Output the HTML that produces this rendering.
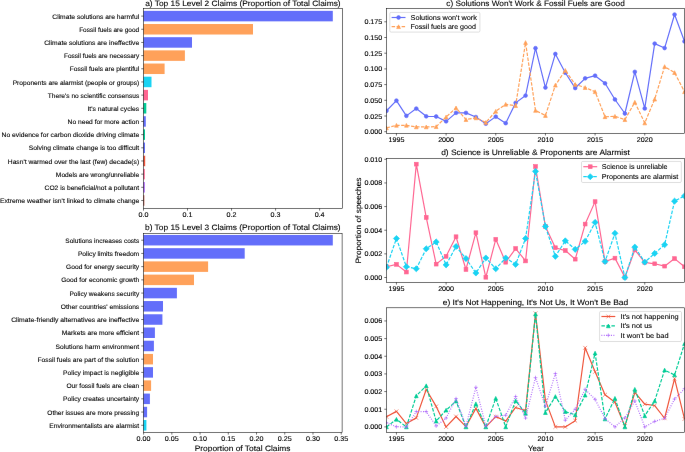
<!DOCTYPE html>
<html><head><meta charset="utf-8"><style>
html,body{margin:0;padding:0;background:#fff;}
svg{display:block;}
#wrap{will-change:transform;width:685px;height:452px;}
text{font-family:"Liberation Sans",sans-serif;text-rendering:geometricPrecision;}
</style></head><body>
<div id="wrap"><svg width="685" height="452" viewBox="0 0 685 452">
<filter id="bl" filterUnits="userSpaceOnUse" x="-5" y="-5" width="695" height="462" color-interpolation-filters="sRGB"><feConvolveMatrix order="3" kernelMatrix="0.00041 0.01943 0.00041 0.01943 0.92062 0.01943 0.00041 0.01943 0.00041" edgeMode="duplicate" preserveAlpha="true"/></filter>
<g filter="url(#bl)"><rect x="-5" y="-5" width="695" height="462" fill="#fff"/>
<rect x="143.45" y="10.85" width="189.35" height="10.50" fill="#636efa"/>
<line x1="141.25" y1="16.10" x2="143.45" y2="16.10" stroke="#000" stroke-width="0.55"/>
<text x="139.20" y="18.65" font-size="6.47" text-anchor="end" fill="#000" stroke="#000" stroke-width="0.1" textLength="86.89" lengthAdjust="spacingAndGlyphs">Climate solutions are harmful</text>
<rect x="143.45" y="24.02" width="109.55" height="10.50" fill="#ffa15a"/>
<line x1="141.25" y1="29.27" x2="143.45" y2="29.27" stroke="#000" stroke-width="0.55"/>
<text x="139.20" y="31.82" font-size="6.47" text-anchor="end" fill="#000" stroke="#000" stroke-width="0.1" textLength="60.05" lengthAdjust="spacingAndGlyphs">Fossil fuels are good</text>
<rect x="143.45" y="37.19" width="48.55" height="10.50" fill="#636efa"/>
<line x1="141.25" y1="42.44" x2="143.45" y2="42.44" stroke="#000" stroke-width="0.55"/>
<text x="139.20" y="44.99" font-size="6.47" text-anchor="end" fill="#000" stroke="#000" stroke-width="0.1" textLength="95.01" lengthAdjust="spacingAndGlyphs">Climate solutions are ineffective</text>
<rect x="143.45" y="50.36" width="41.45" height="10.50" fill="#ffa15a"/>
<line x1="141.25" y1="55.61" x2="143.45" y2="55.61" stroke="#000" stroke-width="0.55"/>
<text x="139.20" y="58.16" font-size="6.47" text-anchor="end" fill="#000" stroke="#000" stroke-width="0.1" textLength="75.21" lengthAdjust="spacingAndGlyphs">Fossil fuels are necessary</text>
<rect x="143.45" y="63.53" width="21.15" height="10.50" fill="#ffa15a"/>
<line x1="141.25" y1="68.78" x2="143.45" y2="68.78" stroke="#000" stroke-width="0.55"/>
<text x="139.20" y="71.33" font-size="6.47" text-anchor="end" fill="#000" stroke="#000" stroke-width="0.1" textLength="69.47" lengthAdjust="spacingAndGlyphs">Fossil fuels are plentiful</text>
<rect x="143.45" y="76.70" width="8.05" height="10.50" fill="#19d3f3"/>
<line x1="141.25" y1="81.95" x2="143.45" y2="81.95" stroke="#000" stroke-width="0.55"/>
<text x="139.20" y="84.50" font-size="6.47" text-anchor="end" fill="#000" stroke="#000" stroke-width="0.1" textLength="126.51" lengthAdjust="spacingAndGlyphs">Proponents are alarmist (people or groups)</text>
<rect x="143.45" y="89.87" width="4.55" height="10.50" fill="#ff6692"/>
<line x1="141.25" y1="95.12" x2="143.45" y2="95.12" stroke="#000" stroke-width="0.55"/>
<text x="139.20" y="97.67" font-size="6.47" text-anchor="end" fill="#000" stroke="#000" stroke-width="0.1" textLength="91.42" lengthAdjust="spacingAndGlyphs">There&#39;s no scientific consensus</text>
<rect x="143.45" y="103.04" width="2.85" height="10.50" fill="#00cc96"/>
<line x1="141.25" y1="108.29" x2="143.45" y2="108.29" stroke="#000" stroke-width="0.55"/>
<text x="139.20" y="110.84" font-size="6.47" text-anchor="end" fill="#000" stroke="#000" stroke-width="0.1" textLength="51.73" lengthAdjust="spacingAndGlyphs">It&#39;s natural cycles</text>
<rect x="143.45" y="116.21" width="2.35" height="10.50" fill="#636efa"/>
<line x1="141.25" y1="121.46" x2="143.45" y2="121.46" stroke="#000" stroke-width="0.55"/>
<text x="139.20" y="124.01" font-size="6.47" text-anchor="end" fill="#000" stroke="#000" stroke-width="0.1" textLength="71.58" lengthAdjust="spacingAndGlyphs">No need for more action</text>
<rect x="143.45" y="129.38" width="1.55" height="10.50" fill="#00cc96"/>
<line x1="141.25" y1="134.63" x2="143.45" y2="134.63" stroke="#000" stroke-width="0.55"/>
<text x="139.20" y="137.18" font-size="6.47" text-anchor="end" fill="#000" stroke="#000" stroke-width="0.1" textLength="137.62" lengthAdjust="spacingAndGlyphs">No evidence for carbon dioxide driving climate</text>
<rect x="143.45" y="142.55" width="1.55" height="10.50" fill="#636efa"/>
<line x1="141.25" y1="147.80" x2="143.45" y2="147.80" stroke="#000" stroke-width="0.55"/>
<text x="139.20" y="150.35" font-size="6.47" text-anchor="end" fill="#000" stroke="#000" stroke-width="0.1" textLength="110.42" lengthAdjust="spacingAndGlyphs">Solving climate change is too difficult</text>
<rect x="143.45" y="155.72" width="1.75" height="10.50" fill="#ef553b"/>
<line x1="141.25" y1="160.97" x2="143.45" y2="160.97" stroke="#000" stroke-width="0.55"/>
<text x="139.20" y="163.52" font-size="6.47" text-anchor="end" fill="#000" stroke="#000" stroke-width="0.1" textLength="131.40" lengthAdjust="spacingAndGlyphs">Hasn&#39;t warmed over the last (few) decade(s)</text>
<rect x="143.45" y="168.89" width="1.35" height="10.50" fill="#ff6692"/>
<line x1="141.25" y1="174.14" x2="143.45" y2="174.14" stroke="#000" stroke-width="0.55"/>
<text x="139.20" y="176.69" font-size="6.47" text-anchor="end" fill="#000" stroke="#000" stroke-width="0.1" textLength="83.31" lengthAdjust="spacingAndGlyphs">Models are wrong/unreliable</text>
<rect x="143.45" y="182.06" width="1.35" height="10.50" fill="#ab63fa"/>
<line x1="141.25" y1="187.31" x2="143.45" y2="187.31" stroke="#000" stroke-width="0.55"/>
<text x="139.20" y="189.86" font-size="6.47" text-anchor="end" fill="#000" stroke="#000" stroke-width="0.1" textLength="94.63" lengthAdjust="spacingAndGlyphs">CO2 is beneficial/not a pollutant</text>
<rect x="143.45" y="195.23" width="0.85" height="10.50" fill="#b03a28"/>
<line x1="141.25" y1="200.48" x2="143.45" y2="200.48" stroke="#000" stroke-width="0.55"/>
<text x="139.20" y="203.03" font-size="6.47" text-anchor="end" fill="#000" stroke="#000" stroke-width="0.1" textLength="139.25" lengthAdjust="spacingAndGlyphs">Extreme weather isn&#39;t linked to climate change</text>
<rect x="143.45" y="8.60" width="198.85" height="199.80" fill="none" stroke="#000" stroke-width="0.55"/>
<line x1="143.50" y1="208.40" x2="143.50" y2="210.60" stroke="#000" stroke-width="0.55"/>
<text x="143.50" y="217.20" font-size="6.88" text-anchor="middle" fill="#000" stroke="#000" stroke-width="0.12" textLength="9.94" lengthAdjust="spacingAndGlyphs">0.0</text>
<line x1="187.53" y1="208.40" x2="187.53" y2="210.60" stroke="#000" stroke-width="0.55"/>
<text x="187.53" y="217.20" font-size="6.88" text-anchor="middle" fill="#000" stroke="#000" stroke-width="0.12" textLength="9.94" lengthAdjust="spacingAndGlyphs">0.1</text>
<line x1="231.56" y1="208.40" x2="231.56" y2="210.60" stroke="#000" stroke-width="0.55"/>
<text x="231.56" y="217.20" font-size="6.88" text-anchor="middle" fill="#000" stroke="#000" stroke-width="0.12" textLength="9.94" lengthAdjust="spacingAndGlyphs">0.2</text>
<line x1="275.59" y1="208.40" x2="275.59" y2="210.60" stroke="#000" stroke-width="0.55"/>
<text x="275.59" y="217.20" font-size="6.88" text-anchor="middle" fill="#000" stroke="#000" stroke-width="0.12" textLength="9.94" lengthAdjust="spacingAndGlyphs">0.3</text>
<line x1="319.62" y1="208.40" x2="319.62" y2="210.60" stroke="#000" stroke-width="0.55"/>
<text x="319.62" y="217.20" font-size="6.88" text-anchor="middle" fill="#000" stroke="#000" stroke-width="0.12" textLength="9.94" lengthAdjust="spacingAndGlyphs">0.4</text>
<text x="242.90" y="5.60" font-size="7.80" text-anchor="middle" fill="#000" stroke="#000" stroke-width="0.1" textLength="195.47" lengthAdjust="spacingAndGlyphs">a) Top 15 Level 2 Claims (Proportion of Total Claims)</text>
<rect x="143.45" y="234.95" width="189.35" height="10.50" fill="#636efa"/>
<line x1="141.25" y1="240.20" x2="143.45" y2="240.20" stroke="#000" stroke-width="0.55"/>
<text x="139.20" y="242.75" font-size="6.47" text-anchor="end" fill="#000" stroke="#000" stroke-width="0.1" textLength="73.87" lengthAdjust="spacingAndGlyphs">Solutions increases costs</text>
<rect x="143.45" y="248.17" width="101.25" height="10.50" fill="#636efa"/>
<line x1="141.25" y1="253.42" x2="143.45" y2="253.42" stroke="#000" stroke-width="0.55"/>
<text x="139.20" y="255.97" font-size="6.47" text-anchor="end" fill="#000" stroke="#000" stroke-width="0.1" textLength="61.30" lengthAdjust="spacingAndGlyphs">Policy limits freedom</text>
<rect x="143.45" y="261.39" width="64.65" height="10.50" fill="#ffa15a"/>
<line x1="141.25" y1="266.64" x2="143.45" y2="266.64" stroke="#000" stroke-width="0.55"/>
<text x="139.20" y="269.19" font-size="6.47" text-anchor="end" fill="#000" stroke="#000" stroke-width="0.1" textLength="73.14" lengthAdjust="spacingAndGlyphs">Good for energy security</text>
<rect x="143.45" y="274.61" width="50.55" height="10.50" fill="#ffa15a"/>
<line x1="141.25" y1="279.86" x2="143.45" y2="279.86" stroke="#000" stroke-width="0.55"/>
<text x="139.20" y="282.41" font-size="6.47" text-anchor="end" fill="#000" stroke="#000" stroke-width="0.1" textLength="78.00" lengthAdjust="spacingAndGlyphs">Good for economic growth</text>
<rect x="143.45" y="287.83" width="33.45" height="10.50" fill="#636efa"/>
<line x1="141.25" y1="293.08" x2="143.45" y2="293.08" stroke="#000" stroke-width="0.55"/>
<text x="139.20" y="295.63" font-size="6.47" text-anchor="end" fill="#000" stroke="#000" stroke-width="0.1" textLength="69.76" lengthAdjust="spacingAndGlyphs">Policy weakens security</text>
<rect x="143.45" y="301.05" width="19.55" height="10.50" fill="#636efa"/>
<line x1="141.25" y1="306.30" x2="143.45" y2="306.30" stroke="#000" stroke-width="0.55"/>
<text x="139.20" y="308.85" font-size="6.47" text-anchor="end" fill="#000" stroke="#000" stroke-width="0.1" textLength="78.50" lengthAdjust="spacingAndGlyphs">Other countries&#39; emissions</text>
<rect x="143.45" y="314.27" width="18.95" height="10.50" fill="#636efa"/>
<line x1="141.25" y1="319.52" x2="143.45" y2="319.52" stroke="#000" stroke-width="0.55"/>
<text x="139.20" y="322.07" font-size="6.47" text-anchor="end" fill="#000" stroke="#000" stroke-width="0.1" textLength="128.00" lengthAdjust="spacingAndGlyphs">Climate-friendly alternatives are ineffective</text>
<rect x="143.45" y="327.49" width="11.45" height="10.50" fill="#636efa"/>
<line x1="141.25" y1="332.74" x2="143.45" y2="332.74" stroke="#000" stroke-width="0.55"/>
<text x="139.20" y="335.29" font-size="6.47" text-anchor="end" fill="#000" stroke="#000" stroke-width="0.1" textLength="77.44" lengthAdjust="spacingAndGlyphs">Markets are more efficient</text>
<rect x="143.45" y="340.71" width="10.45" height="10.50" fill="#636efa"/>
<line x1="141.25" y1="345.96" x2="143.45" y2="345.96" stroke="#000" stroke-width="0.55"/>
<text x="139.20" y="348.51" font-size="6.47" text-anchor="end" fill="#000" stroke="#000" stroke-width="0.1" textLength="83.58" lengthAdjust="spacingAndGlyphs">Solutions harm environment</text>
<rect x="143.45" y="353.93" width="9.55" height="10.50" fill="#ffa15a"/>
<line x1="141.25" y1="359.18" x2="143.45" y2="359.18" stroke="#000" stroke-width="0.55"/>
<text x="139.20" y="361.73" font-size="6.47" text-anchor="end" fill="#000" stroke="#000" stroke-width="0.1" textLength="101.66" lengthAdjust="spacingAndGlyphs">Fossil fuels are part of the solution</text>
<rect x="143.45" y="367.15" width="9.55" height="10.50" fill="#636efa"/>
<line x1="141.25" y1="372.40" x2="143.45" y2="372.40" stroke="#000" stroke-width="0.55"/>
<text x="139.20" y="374.95" font-size="6.47" text-anchor="end" fill="#000" stroke="#000" stroke-width="0.1" textLength="76.15" lengthAdjust="spacingAndGlyphs">Policy impact is negligible</text>
<rect x="143.45" y="380.37" width="7.65" height="10.50" fill="#ffa15a"/>
<line x1="141.25" y1="385.62" x2="143.45" y2="385.62" stroke="#000" stroke-width="0.55"/>
<text x="139.20" y="388.17" font-size="6.47" text-anchor="end" fill="#000" stroke="#000" stroke-width="0.1" textLength="72.75" lengthAdjust="spacingAndGlyphs">Our fossil fuels are clean</text>
<rect x="143.45" y="393.59" width="6.45" height="10.50" fill="#636efa"/>
<line x1="141.25" y1="398.84" x2="143.45" y2="398.84" stroke="#000" stroke-width="0.55"/>
<text x="139.20" y="401.39" font-size="6.47" text-anchor="end" fill="#000" stroke="#000" stroke-width="0.1" textLength="76.16" lengthAdjust="spacingAndGlyphs">Policy creates uncertainty</text>
<rect x="143.45" y="406.81" width="3.65" height="10.50" fill="#636efa"/>
<line x1="141.25" y1="412.06" x2="143.45" y2="412.06" stroke="#000" stroke-width="0.55"/>
<text x="139.20" y="414.61" font-size="6.47" text-anchor="end" fill="#000" stroke="#000" stroke-width="0.1" textLength="91.94" lengthAdjust="spacingAndGlyphs">Other issues are more pressing</text>
<rect x="143.45" y="420.03" width="2.95" height="10.50" fill="#19d3f3"/>
<line x1="141.25" y1="425.28" x2="143.45" y2="425.28" stroke="#000" stroke-width="0.55"/>
<text x="139.20" y="427.83" font-size="6.47" text-anchor="end" fill="#000" stroke="#000" stroke-width="0.1" textLength="89.98" lengthAdjust="spacingAndGlyphs">Environmentalists are alarmist</text>
<rect x="143.45" y="233.40" width="198.65" height="199.00" fill="none" stroke="#000" stroke-width="0.55"/>
<line x1="143.60" y1="432.40" x2="143.60" y2="434.60" stroke="#000" stroke-width="0.55"/>
<text x="143.60" y="441.20" font-size="6.88" text-anchor="middle" fill="#000" stroke="#000" stroke-width="0.12" textLength="13.92" lengthAdjust="spacingAndGlyphs">0.00</text>
<line x1="171.83" y1="432.40" x2="171.83" y2="434.60" stroke="#000" stroke-width="0.55"/>
<text x="171.83" y="441.20" font-size="6.88" text-anchor="middle" fill="#000" stroke="#000" stroke-width="0.12" textLength="13.92" lengthAdjust="spacingAndGlyphs">0.05</text>
<line x1="200.06" y1="432.40" x2="200.06" y2="434.60" stroke="#000" stroke-width="0.55"/>
<text x="200.06" y="441.20" font-size="6.88" text-anchor="middle" fill="#000" stroke="#000" stroke-width="0.12" textLength="13.92" lengthAdjust="spacingAndGlyphs">0.10</text>
<line x1="228.29" y1="432.40" x2="228.29" y2="434.60" stroke="#000" stroke-width="0.55"/>
<text x="228.29" y="441.20" font-size="6.88" text-anchor="middle" fill="#000" stroke="#000" stroke-width="0.12" textLength="13.92" lengthAdjust="spacingAndGlyphs">0.15</text>
<line x1="256.52" y1="432.40" x2="256.52" y2="434.60" stroke="#000" stroke-width="0.55"/>
<text x="256.52" y="441.20" font-size="6.88" text-anchor="middle" fill="#000" stroke="#000" stroke-width="0.12" textLength="13.92" lengthAdjust="spacingAndGlyphs">0.20</text>
<line x1="284.75" y1="432.40" x2="284.75" y2="434.60" stroke="#000" stroke-width="0.55"/>
<text x="284.75" y="441.20" font-size="6.88" text-anchor="middle" fill="#000" stroke="#000" stroke-width="0.12" textLength="13.92" lengthAdjust="spacingAndGlyphs">0.25</text>
<line x1="312.98" y1="432.40" x2="312.98" y2="434.60" stroke="#000" stroke-width="0.55"/>
<text x="312.98" y="441.20" font-size="6.88" text-anchor="middle" fill="#000" stroke="#000" stroke-width="0.12" textLength="13.92" lengthAdjust="spacingAndGlyphs">0.30</text>
<line x1="341.21" y1="432.40" x2="341.21" y2="434.60" stroke="#000" stroke-width="0.55"/>
<text x="341.21" y="441.20" font-size="6.88" text-anchor="middle" fill="#000" stroke="#000" stroke-width="0.12" textLength="13.92" lengthAdjust="spacingAndGlyphs">0.35</text>
<text x="242.80" y="229.70" font-size="7.80" text-anchor="middle" fill="#000" stroke="#000" stroke-width="0.1" textLength="195.63" lengthAdjust="spacingAndGlyphs">b) Top 15 Level 3 Claims (Proportion of Total Claims)</text>
<text x="242.60" y="450.50" font-size="7.80" text-anchor="middle" fill="#000" stroke="#000" stroke-width="0.1" textLength="95.81" lengthAdjust="spacingAndGlyphs">Proportion of Total Claims</text>
<defs><clipPath id="cc"><rect x="386.5" y="8.6" width="298.0" height="124.70000000000002"/></clipPath><clipPath id="cd"><rect x="386.5" y="158.5" width="298" height="123.9"/></clipPath><clipPath id="ce"><rect x="386.5" y="307.8" width="298" height="124.6"/></clipPath></defs>
<g clip-path="url(#cc)">
<path d="M386.50,110.79L396.43,100.61L406.37,115.87L416.30,108.59L426.23,116.31L436.17,116.50L446.10,121.34L456.03,112.86L465.96,112.86L475.90,117.07L485.83,123.66L495.76,116.63L505.70,123.16L515.63,102.87L525.56,95.59L535.50,48.18L545.43,87.55L555.36,53.95L565.29,72.73L575.23,88.05L585.16,78.32L595.09,75.68L605.03,83.28L614.96,99.48L624.89,113.49L634.83,71.85L644.76,108.46L654.69,43.59L664.62,48.05L674.56,14.52L684.49,41.39" fill="none" stroke="#636efa" stroke-width="1.2" stroke-linejoin="round"/>
<circle cx="386.50" cy="110.79" r="1.89" fill="#636efa" stroke="#636efa" stroke-width="0.63" stroke-linejoin="miter"/>
<circle cx="396.43" cy="100.61" r="1.89" fill="#636efa" stroke="#636efa" stroke-width="0.63" stroke-linejoin="miter"/>
<circle cx="406.37" cy="115.87" r="1.89" fill="#636efa" stroke="#636efa" stroke-width="0.63" stroke-linejoin="miter"/>
<circle cx="416.30" cy="108.59" r="1.89" fill="#636efa" stroke="#636efa" stroke-width="0.63" stroke-linejoin="miter"/>
<circle cx="426.23" cy="116.31" r="1.89" fill="#636efa" stroke="#636efa" stroke-width="0.63" stroke-linejoin="miter"/>
<circle cx="436.17" cy="116.50" r="1.89" fill="#636efa" stroke="#636efa" stroke-width="0.63" stroke-linejoin="miter"/>
<circle cx="446.10" cy="121.34" r="1.89" fill="#636efa" stroke="#636efa" stroke-width="0.63" stroke-linejoin="miter"/>
<circle cx="456.03" cy="112.86" r="1.89" fill="#636efa" stroke="#636efa" stroke-width="0.63" stroke-linejoin="miter"/>
<circle cx="465.96" cy="112.86" r="1.89" fill="#636efa" stroke="#636efa" stroke-width="0.63" stroke-linejoin="miter"/>
<circle cx="475.90" cy="117.07" r="1.89" fill="#636efa" stroke="#636efa" stroke-width="0.63" stroke-linejoin="miter"/>
<circle cx="485.83" cy="123.66" r="1.89" fill="#636efa" stroke="#636efa" stroke-width="0.63" stroke-linejoin="miter"/>
<circle cx="495.76" cy="116.63" r="1.89" fill="#636efa" stroke="#636efa" stroke-width="0.63" stroke-linejoin="miter"/>
<circle cx="505.70" cy="123.16" r="1.89" fill="#636efa" stroke="#636efa" stroke-width="0.63" stroke-linejoin="miter"/>
<circle cx="515.63" cy="102.87" r="1.89" fill="#636efa" stroke="#636efa" stroke-width="0.63" stroke-linejoin="miter"/>
<circle cx="525.56" cy="95.59" r="1.89" fill="#636efa" stroke="#636efa" stroke-width="0.63" stroke-linejoin="miter"/>
<circle cx="535.50" cy="48.18" r="1.89" fill="#636efa" stroke="#636efa" stroke-width="0.63" stroke-linejoin="miter"/>
<circle cx="545.43" cy="87.55" r="1.89" fill="#636efa" stroke="#636efa" stroke-width="0.63" stroke-linejoin="miter"/>
<circle cx="555.36" cy="53.95" r="1.89" fill="#636efa" stroke="#636efa" stroke-width="0.63" stroke-linejoin="miter"/>
<circle cx="565.29" cy="72.73" r="1.89" fill="#636efa" stroke="#636efa" stroke-width="0.63" stroke-linejoin="miter"/>
<circle cx="575.23" cy="88.05" r="1.89" fill="#636efa" stroke="#636efa" stroke-width="0.63" stroke-linejoin="miter"/>
<circle cx="585.16" cy="78.32" r="1.89" fill="#636efa" stroke="#636efa" stroke-width="0.63" stroke-linejoin="miter"/>
<circle cx="595.09" cy="75.68" r="1.89" fill="#636efa" stroke="#636efa" stroke-width="0.63" stroke-linejoin="miter"/>
<circle cx="605.03" cy="83.28" r="1.89" fill="#636efa" stroke="#636efa" stroke-width="0.63" stroke-linejoin="miter"/>
<circle cx="614.96" cy="99.48" r="1.89" fill="#636efa" stroke="#636efa" stroke-width="0.63" stroke-linejoin="miter"/>
<circle cx="624.89" cy="113.49" r="1.89" fill="#636efa" stroke="#636efa" stroke-width="0.63" stroke-linejoin="miter"/>
<circle cx="634.83" cy="71.85" r="1.89" fill="#636efa" stroke="#636efa" stroke-width="0.63" stroke-linejoin="miter"/>
<circle cx="644.76" cy="108.46" r="1.89" fill="#636efa" stroke="#636efa" stroke-width="0.63" stroke-linejoin="miter"/>
<circle cx="654.69" cy="43.59" r="1.89" fill="#636efa" stroke="#636efa" stroke-width="0.63" stroke-linejoin="miter"/>
<circle cx="664.62" cy="48.05" r="1.89" fill="#636efa" stroke="#636efa" stroke-width="0.63" stroke-linejoin="miter"/>
<circle cx="674.56" cy="14.52" r="1.89" fill="#636efa" stroke="#636efa" stroke-width="0.63" stroke-linejoin="miter"/>
<circle cx="684.49" cy="41.39" r="1.89" fill="#636efa" stroke="#636efa" stroke-width="0.63" stroke-linejoin="miter"/>
</g>
<g clip-path="url(#cc)">
<path d="M386.50,127.93L396.43,125.29L406.37,125.29L416.30,126.93L426.23,126.93L436.17,126.68L446.10,117.00L456.03,107.90L465.96,119.58L475.90,117.88L485.83,122.47L495.76,111.29L505.70,104.32L515.63,105.64L525.56,42.52L535.50,110.41L545.43,115.50L555.36,85.23L565.29,70.41L575.23,84.47L585.16,87.55L595.09,91.70L605.03,116.75L614.96,116.31L624.89,119.64L634.83,102.25L644.76,122.97L654.69,99.17L664.62,66.58L674.56,72.61L684.49,91.70" fill="none" stroke="#ffa15a" stroke-width="1.2" stroke-linejoin="round" stroke-dasharray="3.5,1.5"/>
<path d="M386.50,126.05L388.38,129.82L384.62,129.82Z" fill="#ffa15a" stroke="#ffa15a" stroke-width="0.63" stroke-linejoin="miter"/>
<path d="M396.43,123.41L398.32,127.18L394.55,127.18Z" fill="#ffa15a" stroke="#ffa15a" stroke-width="0.63" stroke-linejoin="miter"/>
<path d="M406.37,123.41L408.25,127.18L404.48,127.18Z" fill="#ffa15a" stroke="#ffa15a" stroke-width="0.63" stroke-linejoin="miter"/>
<path d="M416.30,125.04L418.18,128.81L414.41,128.81Z" fill="#ffa15a" stroke="#ffa15a" stroke-width="0.63" stroke-linejoin="miter"/>
<path d="M426.23,125.04L428.12,128.81L424.35,128.81Z" fill="#ffa15a" stroke="#ffa15a" stroke-width="0.63" stroke-linejoin="miter"/>
<path d="M436.17,124.79L438.05,128.56L434.28,128.56Z" fill="#ffa15a" stroke="#ffa15a" stroke-width="0.63" stroke-linejoin="miter"/>
<path d="M446.10,115.12L447.98,118.89L444.21,118.89Z" fill="#ffa15a" stroke="#ffa15a" stroke-width="0.63" stroke-linejoin="miter"/>
<path d="M456.03,106.01L457.92,109.78L454.15,109.78Z" fill="#ffa15a" stroke="#ffa15a" stroke-width="0.63" stroke-linejoin="miter"/>
<path d="M465.96,117.69L467.85,121.46L464.08,121.46Z" fill="#ffa15a" stroke="#ffa15a" stroke-width="0.63" stroke-linejoin="miter"/>
<path d="M475.90,116.00L477.78,119.77L474.01,119.77Z" fill="#ffa15a" stroke="#ffa15a" stroke-width="0.63" stroke-linejoin="miter"/>
<path d="M485.83,120.58L487.71,124.35L483.94,124.35Z" fill="#ffa15a" stroke="#ffa15a" stroke-width="0.63" stroke-linejoin="miter"/>
<path d="M495.76,109.40L497.65,113.17L493.88,113.17Z" fill="#ffa15a" stroke="#ffa15a" stroke-width="0.63" stroke-linejoin="miter"/>
<path d="M505.70,102.43L507.58,106.20L503.81,106.20Z" fill="#ffa15a" stroke="#ffa15a" stroke-width="0.63" stroke-linejoin="miter"/>
<path d="M515.63,103.75L517.51,107.52L513.74,107.52Z" fill="#ffa15a" stroke="#ffa15a" stroke-width="0.63" stroke-linejoin="miter"/>
<path d="M525.56,40.64L527.45,44.41L523.68,44.41Z" fill="#ffa15a" stroke="#ffa15a" stroke-width="0.63" stroke-linejoin="miter"/>
<path d="M535.50,108.53L537.38,112.30L533.61,112.30Z" fill="#ffa15a" stroke="#ffa15a" stroke-width="0.63" stroke-linejoin="miter"/>
<path d="M545.43,113.61L547.31,117.38L543.54,117.38Z" fill="#ffa15a" stroke="#ffa15a" stroke-width="0.63" stroke-linejoin="miter"/>
<path d="M555.36,83.34L557.25,87.11L553.48,87.11Z" fill="#ffa15a" stroke="#ffa15a" stroke-width="0.63" stroke-linejoin="miter"/>
<path d="M565.29,68.52L567.18,72.29L563.41,72.29Z" fill="#ffa15a" stroke="#ffa15a" stroke-width="0.63" stroke-linejoin="miter"/>
<path d="M575.23,82.59L577.11,86.36L573.34,86.36Z" fill="#ffa15a" stroke="#ffa15a" stroke-width="0.63" stroke-linejoin="miter"/>
<path d="M585.16,85.67L587.04,89.44L583.27,89.44Z" fill="#ffa15a" stroke="#ffa15a" stroke-width="0.63" stroke-linejoin="miter"/>
<path d="M595.09,89.81L596.98,93.58L593.21,93.58Z" fill="#ffa15a" stroke="#ffa15a" stroke-width="0.63" stroke-linejoin="miter"/>
<path d="M605.03,114.87L606.91,118.64L603.14,118.64Z" fill="#ffa15a" stroke="#ffa15a" stroke-width="0.63" stroke-linejoin="miter"/>
<path d="M614.96,114.43L616.84,118.20L613.07,118.20Z" fill="#ffa15a" stroke="#ffa15a" stroke-width="0.63" stroke-linejoin="miter"/>
<path d="M624.89,117.76L626.78,121.53L623.01,121.53Z" fill="#ffa15a" stroke="#ffa15a" stroke-width="0.63" stroke-linejoin="miter"/>
<path d="M634.83,100.36L636.71,104.13L632.94,104.13Z" fill="#ffa15a" stroke="#ffa15a" stroke-width="0.63" stroke-linejoin="miter"/>
<path d="M644.76,121.09L646.64,124.86L642.87,124.86Z" fill="#ffa15a" stroke="#ffa15a" stroke-width="0.63" stroke-linejoin="miter"/>
<path d="M654.69,97.28L656.58,101.05L652.81,101.05Z" fill="#ffa15a" stroke="#ffa15a" stroke-width="0.63" stroke-linejoin="miter"/>
<path d="M664.62,64.69L666.51,68.46L662.74,68.46Z" fill="#ffa15a" stroke="#ffa15a" stroke-width="0.63" stroke-linejoin="miter"/>
<path d="M674.56,70.72L676.44,74.49L672.67,74.49Z" fill="#ffa15a" stroke="#ffa15a" stroke-width="0.63" stroke-linejoin="miter"/>
<path d="M684.49,89.81L686.38,93.58L682.61,93.58Z" fill="#ffa15a" stroke="#ffa15a" stroke-width="0.63" stroke-linejoin="miter"/>
</g>
<rect x="386.50" y="8.60" width="298.00" height="124.70" fill="none" stroke="#000" stroke-width="0.55"/>
<line x1="384.30" y1="131.70" x2="386.50" y2="131.70" stroke="#000" stroke-width="0.55"/>
<text x="382.30" y="134.20" font-size="6.88" text-anchor="end" fill="#000" stroke="#000" stroke-width="0.12" textLength="17.89" lengthAdjust="spacingAndGlyphs">0.000</text>
<line x1="384.30" y1="116.00" x2="386.50" y2="116.00" stroke="#000" stroke-width="0.55"/>
<text x="382.30" y="118.50" font-size="6.88" text-anchor="end" fill="#000" stroke="#000" stroke-width="0.12" textLength="17.89" lengthAdjust="spacingAndGlyphs">0.025</text>
<line x1="384.30" y1="100.30" x2="386.50" y2="100.30" stroke="#000" stroke-width="0.55"/>
<text x="382.30" y="102.80" font-size="6.88" text-anchor="end" fill="#000" stroke="#000" stroke-width="0.12" textLength="17.89" lengthAdjust="spacingAndGlyphs">0.050</text>
<line x1="384.30" y1="84.60" x2="386.50" y2="84.60" stroke="#000" stroke-width="0.55"/>
<text x="382.30" y="87.10" font-size="6.88" text-anchor="end" fill="#000" stroke="#000" stroke-width="0.12" textLength="17.89" lengthAdjust="spacingAndGlyphs">0.075</text>
<line x1="384.30" y1="68.90" x2="386.50" y2="68.90" stroke="#000" stroke-width="0.55"/>
<text x="382.30" y="71.40" font-size="6.88" text-anchor="end" fill="#000" stroke="#000" stroke-width="0.12" textLength="17.89" lengthAdjust="spacingAndGlyphs">0.100</text>
<line x1="384.30" y1="53.20" x2="386.50" y2="53.20" stroke="#000" stroke-width="0.55"/>
<text x="382.30" y="55.70" font-size="6.88" text-anchor="end" fill="#000" stroke="#000" stroke-width="0.12" textLength="17.89" lengthAdjust="spacingAndGlyphs">0.125</text>
<line x1="384.30" y1="37.50" x2="386.50" y2="37.50" stroke="#000" stroke-width="0.55"/>
<text x="382.30" y="40.00" font-size="6.88" text-anchor="end" fill="#000" stroke="#000" stroke-width="0.12" textLength="17.89" lengthAdjust="spacingAndGlyphs">0.150</text>
<line x1="384.30" y1="21.80" x2="386.50" y2="21.80" stroke="#000" stroke-width="0.55"/>
<text x="382.30" y="24.30" font-size="6.88" text-anchor="end" fill="#000" stroke="#000" stroke-width="0.12" textLength="17.89" lengthAdjust="spacingAndGlyphs">0.175</text>
<line x1="396.43" y1="133.30" x2="396.43" y2="135.50" stroke="#000" stroke-width="0.55"/>
<text x="396.43" y="142.10" font-size="6.88" text-anchor="middle" fill="#000" stroke="#000" stroke-width="0.12" textLength="15.91" lengthAdjust="spacingAndGlyphs">1995</text>
<line x1="446.10" y1="133.30" x2="446.10" y2="135.50" stroke="#000" stroke-width="0.55"/>
<text x="446.10" y="142.10" font-size="6.88" text-anchor="middle" fill="#000" stroke="#000" stroke-width="0.12" textLength="15.91" lengthAdjust="spacingAndGlyphs">2000</text>
<line x1="495.76" y1="133.30" x2="495.76" y2="135.50" stroke="#000" stroke-width="0.55"/>
<text x="495.76" y="142.10" font-size="6.88" text-anchor="middle" fill="#000" stroke="#000" stroke-width="0.12" textLength="15.91" lengthAdjust="spacingAndGlyphs">2005</text>
<line x1="545.43" y1="133.30" x2="545.43" y2="135.50" stroke="#000" stroke-width="0.55"/>
<text x="545.43" y="142.10" font-size="6.88" text-anchor="middle" fill="#000" stroke="#000" stroke-width="0.12" textLength="15.91" lengthAdjust="spacingAndGlyphs">2010</text>
<line x1="595.09" y1="133.30" x2="595.09" y2="135.50" stroke="#000" stroke-width="0.55"/>
<text x="595.09" y="142.10" font-size="6.88" text-anchor="middle" fill="#000" stroke="#000" stroke-width="0.12" textLength="15.91" lengthAdjust="spacingAndGlyphs">2015</text>
<line x1="644.76" y1="133.30" x2="644.76" y2="135.50" stroke="#000" stroke-width="0.55"/>
<text x="644.76" y="142.10" font-size="6.88" text-anchor="middle" fill="#000" stroke="#000" stroke-width="0.12" textLength="15.91" lengthAdjust="spacingAndGlyphs">2020</text>
<text x="535.50" y="5.70" font-size="7.80" text-anchor="middle" fill="#000" stroke="#000" stroke-width="0.1" textLength="178.50" lengthAdjust="spacingAndGlyphs">c) Solutions Won&#39;t Work &amp; Fossil Fuels are Good</text>
<rect x="389.80" y="12.40" width="90.10" height="19.70" rx="1.3" fill="#fff" fill-opacity="0.8" stroke="#cccccc" stroke-width="0.63"/>
<path d="M391.60,17.50L405.50,17.50" stroke="#636efa" stroke-width="1.2"/>
<circle cx="398.55" cy="17.50" r="1.89" fill="#636efa" stroke="#636efa" stroke-width="0.63" stroke-linejoin="miter"/>
<text x="410.50" y="19.80" font-size="7.04" text-anchor="start" fill="#000" stroke="#000" stroke-width="0.1" textLength="66.44" lengthAdjust="spacingAndGlyphs">Solutions won&#39;t work</text>
<path d="M391.60,26.70L405.50,26.70" stroke="#ffa15a" stroke-width="1.2" stroke-dasharray="3.5,1.5"/>
<path d="M398.55,24.81L400.44,28.59L396.67,28.59Z" fill="#ffa15a" stroke="#ffa15a" stroke-width="0.63" stroke-linejoin="miter"/>
<text x="410.50" y="29.00" font-size="7.04" text-anchor="start" fill="#000" stroke="#000" stroke-width="0.1" textLength="65.36" lengthAdjust="spacingAndGlyphs">Fossil fuels are good</text>
<g clip-path="url(#cd)">
<path d="M386.50,266.74L396.43,264.38L406.37,272.06L416.30,164.15L426.23,217.45L436.17,264.14L446.10,256.34L456.03,236.72L465.96,269.46L475.90,232.70L485.83,277.26L495.76,239.32L505.70,262.25L515.63,248.54L525.56,260.95L535.50,166.51L545.43,226.44L555.36,247.71L565.29,250.55L575.23,259.18L585.16,224.07L595.09,201.62L605.03,261.54L614.96,258.12L624.89,277.26L634.83,249.96L644.76,262.37L654.69,263.79L664.62,266.15L674.56,258.59L684.49,266.74" fill="none" stroke="#ff6692" stroke-width="1.2" stroke-linejoin="round"/>
<rect x="384.62" y="264.86" width="3.77" height="3.77" fill="#ff6692" stroke="#ff6692" stroke-width="0.63" stroke-linejoin="miter"/>
<rect x="394.55" y="262.49" width="3.77" height="3.77" fill="#ff6692" stroke="#ff6692" stroke-width="0.63" stroke-linejoin="miter"/>
<rect x="404.48" y="270.18" width="3.77" height="3.77" fill="#ff6692" stroke="#ff6692" stroke-width="0.63" stroke-linejoin="miter"/>
<rect x="414.41" y="162.26" width="3.77" height="3.77" fill="#ff6692" stroke="#ff6692" stroke-width="0.63" stroke-linejoin="miter"/>
<rect x="424.35" y="215.57" width="3.77" height="3.77" fill="#ff6692" stroke="#ff6692" stroke-width="0.63" stroke-linejoin="miter"/>
<rect x="434.28" y="262.26" width="3.77" height="3.77" fill="#ff6692" stroke="#ff6692" stroke-width="0.63" stroke-linejoin="miter"/>
<rect x="444.21" y="254.46" width="3.77" height="3.77" fill="#ff6692" stroke="#ff6692" stroke-width="0.63" stroke-linejoin="miter"/>
<rect x="454.15" y="234.84" width="3.77" height="3.77" fill="#ff6692" stroke="#ff6692" stroke-width="0.63" stroke-linejoin="miter"/>
<rect x="464.08" y="267.58" width="3.77" height="3.77" fill="#ff6692" stroke="#ff6692" stroke-width="0.63" stroke-linejoin="miter"/>
<rect x="474.01" y="230.82" width="3.77" height="3.77" fill="#ff6692" stroke="#ff6692" stroke-width="0.63" stroke-linejoin="miter"/>
<rect x="483.94" y="275.38" width="3.77" height="3.77" fill="#ff6692" stroke="#ff6692" stroke-width="0.63" stroke-linejoin="miter"/>
<rect x="493.88" y="237.44" width="3.77" height="3.77" fill="#ff6692" stroke="#ff6692" stroke-width="0.63" stroke-linejoin="miter"/>
<rect x="503.81" y="260.37" width="3.77" height="3.77" fill="#ff6692" stroke="#ff6692" stroke-width="0.63" stroke-linejoin="miter"/>
<rect x="513.74" y="246.66" width="3.77" height="3.77" fill="#ff6692" stroke="#ff6692" stroke-width="0.63" stroke-linejoin="miter"/>
<rect x="523.68" y="259.07" width="3.77" height="3.77" fill="#ff6692" stroke="#ff6692" stroke-width="0.63" stroke-linejoin="miter"/>
<rect x="533.61" y="164.63" width="3.77" height="3.77" fill="#ff6692" stroke="#ff6692" stroke-width="0.63" stroke-linejoin="miter"/>
<rect x="543.54" y="224.55" width="3.77" height="3.77" fill="#ff6692" stroke="#ff6692" stroke-width="0.63" stroke-linejoin="miter"/>
<rect x="553.48" y="245.83" width="3.77" height="3.77" fill="#ff6692" stroke="#ff6692" stroke-width="0.63" stroke-linejoin="miter"/>
<rect x="563.41" y="248.67" width="3.77" height="3.77" fill="#ff6692" stroke="#ff6692" stroke-width="0.63" stroke-linejoin="miter"/>
<rect x="573.34" y="257.29" width="3.77" height="3.77" fill="#ff6692" stroke="#ff6692" stroke-width="0.63" stroke-linejoin="miter"/>
<rect x="583.27" y="222.19" width="3.77" height="3.77" fill="#ff6692" stroke="#ff6692" stroke-width="0.63" stroke-linejoin="miter"/>
<rect x="593.21" y="199.73" width="3.77" height="3.77" fill="#ff6692" stroke="#ff6692" stroke-width="0.63" stroke-linejoin="miter"/>
<rect x="603.14" y="259.66" width="3.77" height="3.77" fill="#ff6692" stroke="#ff6692" stroke-width="0.63" stroke-linejoin="miter"/>
<rect x="613.07" y="256.23" width="3.77" height="3.77" fill="#ff6692" stroke="#ff6692" stroke-width="0.63" stroke-linejoin="miter"/>
<rect x="623.01" y="275.38" width="3.77" height="3.77" fill="#ff6692" stroke="#ff6692" stroke-width="0.63" stroke-linejoin="miter"/>
<rect x="632.94" y="248.07" width="3.77" height="3.77" fill="#ff6692" stroke="#ff6692" stroke-width="0.63" stroke-linejoin="miter"/>
<rect x="642.87" y="260.49" width="3.77" height="3.77" fill="#ff6692" stroke="#ff6692" stroke-width="0.63" stroke-linejoin="miter"/>
<rect x="652.81" y="261.90" width="3.77" height="3.77" fill="#ff6692" stroke="#ff6692" stroke-width="0.63" stroke-linejoin="miter"/>
<rect x="662.74" y="264.27" width="3.77" height="3.77" fill="#ff6692" stroke="#ff6692" stroke-width="0.63" stroke-linejoin="miter"/>
<rect x="672.67" y="256.70" width="3.77" height="3.77" fill="#ff6692" stroke="#ff6692" stroke-width="0.63" stroke-linejoin="miter"/>
<rect x="682.61" y="264.86" width="3.77" height="3.77" fill="#ff6692" stroke="#ff6692" stroke-width="0.63" stroke-linejoin="miter"/>
</g>
<g clip-path="url(#cd)">
<path d="M386.50,267.22L396.43,238.49L406.37,266.74L416.30,268.75L426.23,248.78L436.17,241.92L446.10,264.85L456.03,246.53L465.96,258.59L475.90,273.01L485.83,258.00L495.76,268.75L505.70,258.00L515.63,264.38L525.56,238.49L535.50,171.36L545.43,226.44L555.36,256.34L565.29,240.86L575.23,249.37L585.16,241.33L595.09,222.42L605.03,261.54L614.96,233.29L624.89,277.50L634.83,247.12L644.76,262.13L654.69,253.39L664.62,244.76L674.56,201.14L684.49,195.94" fill="none" stroke="#19d3f3" stroke-width="1.2" stroke-linejoin="round" stroke-dasharray="3.5,1.5"/>
<path d="M386.50,264.15L389.57,267.22L386.50,270.28L383.43,267.22Z" fill="#19d3f3" stroke="#19d3f3" stroke-width="0.63" stroke-linejoin="miter"/>
<path d="M396.43,235.43L399.50,238.49L396.43,241.56L393.37,238.49Z" fill="#19d3f3" stroke="#19d3f3" stroke-width="0.63" stroke-linejoin="miter"/>
<path d="M406.37,263.68L409.43,266.74L406.37,269.81L403.30,266.74Z" fill="#19d3f3" stroke="#19d3f3" stroke-width="0.63" stroke-linejoin="miter"/>
<path d="M416.30,265.69L419.36,268.75L416.30,271.82L413.23,268.75Z" fill="#19d3f3" stroke="#19d3f3" stroke-width="0.63" stroke-linejoin="miter"/>
<path d="M426.23,245.71L429.30,248.78L426.23,251.84L423.17,248.78Z" fill="#19d3f3" stroke="#19d3f3" stroke-width="0.63" stroke-linejoin="miter"/>
<path d="M436.17,238.86L439.23,241.92L436.17,244.99L433.10,241.92Z" fill="#19d3f3" stroke="#19d3f3" stroke-width="0.63" stroke-linejoin="miter"/>
<path d="M446.10,261.79L449.16,264.85L446.10,267.92L443.03,264.85Z" fill="#19d3f3" stroke="#19d3f3" stroke-width="0.63" stroke-linejoin="miter"/>
<path d="M456.03,243.47L459.10,246.53L456.03,249.60L452.97,246.53Z" fill="#19d3f3" stroke="#19d3f3" stroke-width="0.63" stroke-linejoin="miter"/>
<path d="M465.96,255.52L469.03,258.59L465.96,261.65L462.90,258.59Z" fill="#19d3f3" stroke="#19d3f3" stroke-width="0.63" stroke-linejoin="miter"/>
<path d="M475.90,269.94L478.96,273.01L475.90,276.07L472.83,273.01Z" fill="#19d3f3" stroke="#19d3f3" stroke-width="0.63" stroke-linejoin="miter"/>
<path d="M485.83,254.93L488.90,258.00L485.83,261.06L482.76,258.00Z" fill="#19d3f3" stroke="#19d3f3" stroke-width="0.63" stroke-linejoin="miter"/>
<path d="M495.76,265.69L498.83,268.75L495.76,271.82L492.70,268.75Z" fill="#19d3f3" stroke="#19d3f3" stroke-width="0.63" stroke-linejoin="miter"/>
<path d="M505.70,254.93L508.76,258.00L505.70,261.06L502.63,258.00Z" fill="#19d3f3" stroke="#19d3f3" stroke-width="0.63" stroke-linejoin="miter"/>
<path d="M515.63,261.31L518.69,264.38L515.63,267.45L512.56,264.38Z" fill="#19d3f3" stroke="#19d3f3" stroke-width="0.63" stroke-linejoin="miter"/>
<path d="M525.56,235.43L528.63,238.49L525.56,241.56L522.50,238.49Z" fill="#19d3f3" stroke="#19d3f3" stroke-width="0.63" stroke-linejoin="miter"/>
<path d="M535.50,168.29L538.56,171.36L535.50,174.42L532.43,171.36Z" fill="#19d3f3" stroke="#19d3f3" stroke-width="0.63" stroke-linejoin="miter"/>
<path d="M545.43,223.37L548.49,226.44L545.43,229.50L542.36,226.44Z" fill="#19d3f3" stroke="#19d3f3" stroke-width="0.63" stroke-linejoin="miter"/>
<path d="M555.36,253.28L558.43,256.34L555.36,259.41L552.30,256.34Z" fill="#19d3f3" stroke="#19d3f3" stroke-width="0.63" stroke-linejoin="miter"/>
<path d="M565.29,237.79L568.36,240.86L565.29,243.92L562.23,240.86Z" fill="#19d3f3" stroke="#19d3f3" stroke-width="0.63" stroke-linejoin="miter"/>
<path d="M575.23,246.30L578.29,249.37L575.23,252.43L572.16,249.37Z" fill="#19d3f3" stroke="#19d3f3" stroke-width="0.63" stroke-linejoin="miter"/>
<path d="M585.16,238.27L588.23,241.33L585.16,244.40L582.09,241.33Z" fill="#19d3f3" stroke="#19d3f3" stroke-width="0.63" stroke-linejoin="miter"/>
<path d="M595.09,219.35L598.16,222.42L595.09,225.48L592.03,222.42Z" fill="#19d3f3" stroke="#19d3f3" stroke-width="0.63" stroke-linejoin="miter"/>
<path d="M605.03,258.48L608.09,261.54L605.03,264.61L601.96,261.54Z" fill="#19d3f3" stroke="#19d3f3" stroke-width="0.63" stroke-linejoin="miter"/>
<path d="M614.96,230.23L618.02,233.29L614.96,236.36L611.89,233.29Z" fill="#19d3f3" stroke="#19d3f3" stroke-width="0.63" stroke-linejoin="miter"/>
<path d="M624.89,274.43L627.96,277.50L624.89,280.57L621.83,277.50Z" fill="#19d3f3" stroke="#19d3f3" stroke-width="0.63" stroke-linejoin="miter"/>
<path d="M634.83,244.06L637.89,247.12L634.83,250.19L631.76,247.12Z" fill="#19d3f3" stroke="#19d3f3" stroke-width="0.63" stroke-linejoin="miter"/>
<path d="M644.76,259.07L647.82,262.13L644.76,265.20L641.69,262.13Z" fill="#19d3f3" stroke="#19d3f3" stroke-width="0.63" stroke-linejoin="miter"/>
<path d="M654.69,250.32L657.76,253.39L654.69,256.45L651.63,253.39Z" fill="#19d3f3" stroke="#19d3f3" stroke-width="0.63" stroke-linejoin="miter"/>
<path d="M664.62,241.69L667.69,244.76L664.62,247.82L661.56,244.76Z" fill="#19d3f3" stroke="#19d3f3" stroke-width="0.63" stroke-linejoin="miter"/>
<path d="M674.56,198.08L677.62,201.14L674.56,204.21L671.49,201.14Z" fill="#19d3f3" stroke="#19d3f3" stroke-width="0.63" stroke-linejoin="miter"/>
<path d="M684.49,192.88L687.56,195.94L684.49,199.01L681.42,195.94Z" fill="#19d3f3" stroke="#19d3f3" stroke-width="0.63" stroke-linejoin="miter"/>
</g>
<rect x="386.50" y="158.50" width="298.00" height="123.90" fill="none" stroke="#000" stroke-width="0.55"/>
<line x1="384.30" y1="277.50" x2="386.50" y2="277.50" stroke="#000" stroke-width="0.55"/>
<text x="382.30" y="280.00" font-size="6.88" text-anchor="end" fill="#000" stroke="#000" stroke-width="0.12" textLength="17.89" lengthAdjust="spacingAndGlyphs">0.000</text>
<line x1="384.30" y1="253.86" x2="386.50" y2="253.86" stroke="#000" stroke-width="0.55"/>
<text x="382.30" y="256.36" font-size="6.88" text-anchor="end" fill="#000" stroke="#000" stroke-width="0.12" textLength="17.89" lengthAdjust="spacingAndGlyphs">0.002</text>
<line x1="384.30" y1="230.22" x2="386.50" y2="230.22" stroke="#000" stroke-width="0.55"/>
<text x="382.30" y="232.72" font-size="6.88" text-anchor="end" fill="#000" stroke="#000" stroke-width="0.12" textLength="17.89" lengthAdjust="spacingAndGlyphs">0.004</text>
<line x1="384.30" y1="206.58" x2="386.50" y2="206.58" stroke="#000" stroke-width="0.55"/>
<text x="382.30" y="209.08" font-size="6.88" text-anchor="end" fill="#000" stroke="#000" stroke-width="0.12" textLength="17.89" lengthAdjust="spacingAndGlyphs">0.006</text>
<line x1="384.30" y1="182.94" x2="386.50" y2="182.94" stroke="#000" stroke-width="0.55"/>
<text x="382.30" y="185.44" font-size="6.88" text-anchor="end" fill="#000" stroke="#000" stroke-width="0.12" textLength="17.89" lengthAdjust="spacingAndGlyphs">0.008</text>
<line x1="384.30" y1="159.30" x2="386.50" y2="159.30" stroke="#000" stroke-width="0.55"/>
<text x="382.30" y="161.80" font-size="6.88" text-anchor="end" fill="#000" stroke="#000" stroke-width="0.12" textLength="17.89" lengthAdjust="spacingAndGlyphs">0.010</text>
<line x1="396.43" y1="282.40" x2="396.43" y2="284.60" stroke="#000" stroke-width="0.55"/>
<text x="396.43" y="291.20" font-size="6.88" text-anchor="middle" fill="#000" stroke="#000" stroke-width="0.12" textLength="15.91" lengthAdjust="spacingAndGlyphs">1995</text>
<line x1="446.10" y1="282.40" x2="446.10" y2="284.60" stroke="#000" stroke-width="0.55"/>
<text x="446.10" y="291.20" font-size="6.88" text-anchor="middle" fill="#000" stroke="#000" stroke-width="0.12" textLength="15.91" lengthAdjust="spacingAndGlyphs">2000</text>
<line x1="495.76" y1="282.40" x2="495.76" y2="284.60" stroke="#000" stroke-width="0.55"/>
<text x="495.76" y="291.20" font-size="6.88" text-anchor="middle" fill="#000" stroke="#000" stroke-width="0.12" textLength="15.91" lengthAdjust="spacingAndGlyphs">2005</text>
<line x1="545.43" y1="282.40" x2="545.43" y2="284.60" stroke="#000" stroke-width="0.55"/>
<text x="545.43" y="291.20" font-size="6.88" text-anchor="middle" fill="#000" stroke="#000" stroke-width="0.12" textLength="15.91" lengthAdjust="spacingAndGlyphs">2010</text>
<line x1="595.09" y1="282.40" x2="595.09" y2="284.60" stroke="#000" stroke-width="0.55"/>
<text x="595.09" y="291.20" font-size="6.88" text-anchor="middle" fill="#000" stroke="#000" stroke-width="0.12" textLength="15.91" lengthAdjust="spacingAndGlyphs">2015</text>
<line x1="644.76" y1="282.40" x2="644.76" y2="284.60" stroke="#000" stroke-width="0.55"/>
<text x="644.76" y="291.20" font-size="6.88" text-anchor="middle" fill="#000" stroke="#000" stroke-width="0.12" textLength="15.91" lengthAdjust="spacingAndGlyphs">2020</text>
<text x="535.50" y="154.90" font-size="7.80" text-anchor="middle" fill="#000" stroke="#000" stroke-width="0.1" textLength="188.63" lengthAdjust="spacingAndGlyphs">d) Science is Unreliable &amp; Proponents are Alarmist</text>
<rect x="581.50" y="161.40" width="99.80" height="21.10" rx="1.3" fill="#fff" fill-opacity="0.8" stroke="#cccccc" stroke-width="0.63"/>
<path d="M583.30,166.70L597.20,166.70" stroke="#ff6692" stroke-width="1.2"/>
<rect x="588.37" y="164.81" width="3.77" height="3.77" fill="#ff6692" stroke="#ff6692" stroke-width="0.63" stroke-linejoin="miter"/>
<text x="601.80" y="169.00" font-size="7.04" text-anchor="start" fill="#000" stroke="#000" stroke-width="0.1" textLength="65.79" lengthAdjust="spacingAndGlyphs">Science is unreliable</text>
<path d="M583.30,176.70L597.20,176.70" stroke="#19d3f3" stroke-width="1.2" stroke-dasharray="3.5,1.5"/>
<path d="M590.25,173.63L593.32,176.70L590.25,179.77L587.18,176.70Z" fill="#19d3f3" stroke="#19d3f3" stroke-width="0.63" stroke-linejoin="miter"/>
<text x="601.80" y="179.00" font-size="7.04" text-anchor="start" fill="#000" stroke="#000" stroke-width="0.1" textLength="76.44" lengthAdjust="spacingAndGlyphs">Proponents are alarmist</text>
<text x="360.80" y="220.45" font-size="7.80" text-anchor="middle" fill="#000" stroke="#000" stroke-width="0.1" textLength="85.99" lengthAdjust="spacingAndGlyphs" transform="rotate(-90 360.80 220.45)">Proportion of speeches</text>
<g clip-path="url(#ce)">
<path d="M386.50,416.83L396.43,411.36L406.37,423.54L416.30,417.89L426.23,389.46L436.17,406.41L446.10,426.90L456.03,416.48L465.96,426.55L475.90,408.36L485.83,426.90L495.76,416.66L505.70,421.07L515.63,407.47L525.56,410.65L535.50,313.35L545.43,400.41L555.36,426.90L565.29,426.90L575.23,420.72L585.16,347.78L595.09,371.80L605.03,394.76L614.96,402.18L624.89,426.19L634.83,392.46L644.76,404.12L654.69,405.53L664.62,418.25L674.56,378.69L684.49,418.95" fill="none" stroke="#ef553b" stroke-width="1.2" stroke-linejoin="round"/>
<path d="M384.62,414.95L388.38,418.72M384.62,418.72L388.38,414.95" stroke="#ef553b" stroke-width="0.63" fill="none"/>
<path d="M394.55,409.47L398.32,413.24M394.55,413.24L398.32,409.47" stroke="#ef553b" stroke-width="0.63" fill="none"/>
<path d="M404.48,421.66L408.25,425.43M404.48,425.43L408.25,421.66" stroke="#ef553b" stroke-width="0.63" fill="none"/>
<path d="M414.41,416.01L418.18,419.78M414.41,419.78L418.18,416.01" stroke="#ef553b" stroke-width="0.63" fill="none"/>
<path d="M424.35,387.58L428.12,391.35M424.35,391.35L428.12,387.58" stroke="#ef553b" stroke-width="0.63" fill="none"/>
<path d="M434.28,404.53L438.05,408.30M434.28,408.30L438.05,404.53" stroke="#ef553b" stroke-width="0.63" fill="none"/>
<path d="M444.21,425.01L447.98,428.78M444.21,428.78L447.98,425.01" stroke="#ef553b" stroke-width="0.63" fill="none"/>
<path d="M454.15,414.60L457.92,418.37M454.15,418.37L457.92,414.60" stroke="#ef553b" stroke-width="0.63" fill="none"/>
<path d="M464.08,424.66L467.85,428.43M464.08,428.43L467.85,424.66" stroke="#ef553b" stroke-width="0.63" fill="none"/>
<path d="M474.01,406.47L477.78,410.24M474.01,410.24L477.78,406.47" stroke="#ef553b" stroke-width="0.63" fill="none"/>
<path d="M483.94,425.01L487.71,428.78M483.94,428.78L487.71,425.01" stroke="#ef553b" stroke-width="0.63" fill="none"/>
<path d="M493.88,414.77L497.65,418.54M493.88,418.54L497.65,414.77" stroke="#ef553b" stroke-width="0.63" fill="none"/>
<path d="M503.81,419.19L507.58,422.96M503.81,422.96L507.58,419.19" stroke="#ef553b" stroke-width="0.63" fill="none"/>
<path d="M513.74,405.59L517.51,409.36M513.74,409.36L517.51,405.59" stroke="#ef553b" stroke-width="0.63" fill="none"/>
<path d="M523.68,408.77L527.45,412.54M523.68,412.54L527.45,408.77" stroke="#ef553b" stroke-width="0.63" fill="none"/>
<path d="M533.61,311.46L537.38,315.23M533.61,315.23L537.38,311.46" stroke="#ef553b" stroke-width="0.63" fill="none"/>
<path d="M543.54,398.52L547.31,402.29M543.54,402.29L547.31,398.52" stroke="#ef553b" stroke-width="0.63" fill="none"/>
<path d="M553.48,425.01L557.25,428.78M553.48,428.78L557.25,425.01" stroke="#ef553b" stroke-width="0.63" fill="none"/>
<path d="M563.41,425.01L567.18,428.78M563.41,428.78L567.18,425.01" stroke="#ef553b" stroke-width="0.63" fill="none"/>
<path d="M573.34,418.83L577.11,422.60M573.34,422.60L577.11,418.83" stroke="#ef553b" stroke-width="0.63" fill="none"/>
<path d="M583.27,345.90L587.04,349.67M583.27,349.67L587.04,345.90" stroke="#ef553b" stroke-width="0.63" fill="none"/>
<path d="M593.21,369.92L596.98,373.69M593.21,373.69L596.98,369.92" stroke="#ef553b" stroke-width="0.63" fill="none"/>
<path d="M603.14,392.87L606.91,396.64M603.14,396.64L606.91,392.87" stroke="#ef553b" stroke-width="0.63" fill="none"/>
<path d="M613.07,400.29L616.84,404.06M613.07,404.06L616.84,400.29" stroke="#ef553b" stroke-width="0.63" fill="none"/>
<path d="M623.01,424.31L626.78,428.08M623.01,428.08L626.78,424.31" stroke="#ef553b" stroke-width="0.63" fill="none"/>
<path d="M632.94,390.58L636.71,394.35M632.94,394.35L636.71,390.58" stroke="#ef553b" stroke-width="0.63" fill="none"/>
<path d="M642.87,402.23L646.64,406.00M642.87,406.00L646.64,402.23" stroke="#ef553b" stroke-width="0.63" fill="none"/>
<path d="M652.81,403.65L656.58,407.42M652.81,407.42L656.58,403.65" stroke="#ef553b" stroke-width="0.63" fill="none"/>
<path d="M662.74,416.36L666.51,420.13M662.74,420.13L666.51,416.36" stroke="#ef553b" stroke-width="0.63" fill="none"/>
<path d="M672.67,376.80L676.44,380.57M672.67,380.57L676.44,376.80" stroke="#ef553b" stroke-width="0.63" fill="none"/>
<path d="M682.61,417.07L686.38,420.84M682.61,420.84L686.38,417.07" stroke="#ef553b" stroke-width="0.63" fill="none"/>
</g>
<g clip-path="url(#ce)">
<path d="M386.50,426.90L396.43,419.31L406.37,426.90L416.30,395.82L426.23,385.75L436.17,421.07L446.10,410.12L456.03,401.12L465.96,426.90L475.90,403.77L485.83,426.90L495.76,398.29L505.70,426.90L515.63,400.76L525.56,413.30L535.50,314.05L545.43,412.60L555.36,396.52L565.29,411.54L575.23,414.89L585.16,395.11L595.09,353.08L605.03,418.95L614.96,398.29L624.89,426.90L634.83,389.28L644.76,415.77L654.69,400.94L664.62,370.03L674.56,374.98L684.49,343.72" fill="none" stroke="#00cc96" stroke-width="1.2" stroke-linejoin="round" stroke-dasharray="3.5,1.5"/>
<path d="M386.50,425.01L388.38,428.78L384.62,428.78Z" fill="#00cc96" stroke="#00cc96" stroke-width="0.63" stroke-linejoin="miter"/>
<path d="M396.43,417.42L398.32,421.19L394.55,421.19Z" fill="#00cc96" stroke="#00cc96" stroke-width="0.63" stroke-linejoin="miter"/>
<path d="M406.37,425.01L408.25,428.78L404.48,428.78Z" fill="#00cc96" stroke="#00cc96" stroke-width="0.63" stroke-linejoin="miter"/>
<path d="M416.30,393.93L418.18,397.70L414.41,397.70Z" fill="#00cc96" stroke="#00cc96" stroke-width="0.63" stroke-linejoin="miter"/>
<path d="M426.23,383.87L428.12,387.64L424.35,387.64Z" fill="#00cc96" stroke="#00cc96" stroke-width="0.63" stroke-linejoin="miter"/>
<path d="M436.17,419.19L438.05,422.96L434.28,422.96Z" fill="#00cc96" stroke="#00cc96" stroke-width="0.63" stroke-linejoin="miter"/>
<path d="M446.10,408.24L447.98,412.01L444.21,412.01Z" fill="#00cc96" stroke="#00cc96" stroke-width="0.63" stroke-linejoin="miter"/>
<path d="M456.03,399.23L457.92,403.00L454.15,403.00Z" fill="#00cc96" stroke="#00cc96" stroke-width="0.63" stroke-linejoin="miter"/>
<path d="M465.96,425.01L467.85,428.78L464.08,428.78Z" fill="#00cc96" stroke="#00cc96" stroke-width="0.63" stroke-linejoin="miter"/>
<path d="M475.90,401.88L477.78,405.65L474.01,405.65Z" fill="#00cc96" stroke="#00cc96" stroke-width="0.63" stroke-linejoin="miter"/>
<path d="M485.83,425.01L487.71,428.78L483.94,428.78Z" fill="#00cc96" stroke="#00cc96" stroke-width="0.63" stroke-linejoin="miter"/>
<path d="M495.76,396.41L497.65,400.18L493.88,400.18Z" fill="#00cc96" stroke="#00cc96" stroke-width="0.63" stroke-linejoin="miter"/>
<path d="M505.70,425.01L507.58,428.78L503.81,428.78Z" fill="#00cc96" stroke="#00cc96" stroke-width="0.63" stroke-linejoin="miter"/>
<path d="M515.63,398.88L517.51,402.65L513.74,402.65Z" fill="#00cc96" stroke="#00cc96" stroke-width="0.63" stroke-linejoin="miter"/>
<path d="M525.56,411.42L527.45,415.19L523.68,415.19Z" fill="#00cc96" stroke="#00cc96" stroke-width="0.63" stroke-linejoin="miter"/>
<path d="M535.50,312.17L537.38,315.94L533.61,315.94Z" fill="#00cc96" stroke="#00cc96" stroke-width="0.63" stroke-linejoin="miter"/>
<path d="M545.43,410.71L547.31,414.48L543.54,414.48Z" fill="#00cc96" stroke="#00cc96" stroke-width="0.63" stroke-linejoin="miter"/>
<path d="M555.36,394.64L557.25,398.41L553.48,398.41Z" fill="#00cc96" stroke="#00cc96" stroke-width="0.63" stroke-linejoin="miter"/>
<path d="M565.29,409.65L567.18,413.42L563.41,413.42Z" fill="#00cc96" stroke="#00cc96" stroke-width="0.63" stroke-linejoin="miter"/>
<path d="M575.23,413.01L577.11,416.78L573.34,416.78Z" fill="#00cc96" stroke="#00cc96" stroke-width="0.63" stroke-linejoin="miter"/>
<path d="M585.16,393.23L587.04,397.00L583.27,397.00Z" fill="#00cc96" stroke="#00cc96" stroke-width="0.63" stroke-linejoin="miter"/>
<path d="M595.09,351.20L596.98,354.97L593.21,354.97Z" fill="#00cc96" stroke="#00cc96" stroke-width="0.63" stroke-linejoin="miter"/>
<path d="M605.03,417.07L606.91,420.84L603.14,420.84Z" fill="#00cc96" stroke="#00cc96" stroke-width="0.63" stroke-linejoin="miter"/>
<path d="M614.96,396.41L616.84,400.18L613.07,400.18Z" fill="#00cc96" stroke="#00cc96" stroke-width="0.63" stroke-linejoin="miter"/>
<path d="M624.89,425.01L626.78,428.78L623.01,428.78Z" fill="#00cc96" stroke="#00cc96" stroke-width="0.63" stroke-linejoin="miter"/>
<path d="M634.83,387.40L636.71,391.17L632.94,391.17Z" fill="#00cc96" stroke="#00cc96" stroke-width="0.63" stroke-linejoin="miter"/>
<path d="M644.76,413.89L646.64,417.66L642.87,417.66Z" fill="#00cc96" stroke="#00cc96" stroke-width="0.63" stroke-linejoin="miter"/>
<path d="M654.69,399.05L656.58,402.82L652.81,402.82Z" fill="#00cc96" stroke="#00cc96" stroke-width="0.63" stroke-linejoin="miter"/>
<path d="M664.62,368.15L666.51,371.92L662.74,371.92Z" fill="#00cc96" stroke="#00cc96" stroke-width="0.63" stroke-linejoin="miter"/>
<path d="M674.56,373.09L676.44,376.86L672.67,376.86Z" fill="#00cc96" stroke="#00cc96" stroke-width="0.63" stroke-linejoin="miter"/>
<path d="M684.49,341.84L686.38,345.61L682.61,345.61Z" fill="#00cc96" stroke="#00cc96" stroke-width="0.63" stroke-linejoin="miter"/>
</g>
<g clip-path="url(#ce)">
<path d="M386.50,422.84L396.43,426.72L406.37,426.90L416.30,411.54L426.23,411.54L436.17,426.02L446.10,418.07L456.03,398.64L465.96,426.02L475.90,387.34L485.83,426.02L495.76,416.48L505.70,415.24L515.63,396.52L525.56,418.07L535.50,377.63L545.43,406.24L555.36,373.57L565.29,420.19L575.23,409.24L585.16,389.28L595.09,399.35L605.03,418.60L614.96,426.90L624.89,417.89L634.83,400.94L644.76,426.90L654.69,421.43L664.62,418.25L674.56,399.00L684.49,388.75" fill="none" stroke="#ab63fa" stroke-width="1.2" stroke-linejoin="round" stroke-dasharray="0.9,1.5"/>
<path d="M384.62,422.84L388.38,422.84M386.50,420.95L386.50,424.72" stroke="#ab63fa" stroke-width="0.63" fill="none"/>
<path d="M394.55,426.72L398.32,426.72M396.43,424.84L396.43,428.61" stroke="#ab63fa" stroke-width="0.63" fill="none"/>
<path d="M404.48,426.90L408.25,426.90M406.37,425.01L406.37,428.78" stroke="#ab63fa" stroke-width="0.63" fill="none"/>
<path d="M414.41,411.54L418.18,411.54M416.30,409.65L416.30,413.42" stroke="#ab63fa" stroke-width="0.63" fill="none"/>
<path d="M424.35,411.54L428.12,411.54M426.23,409.65L426.23,413.42" stroke="#ab63fa" stroke-width="0.63" fill="none"/>
<path d="M434.28,426.02L438.05,426.02M436.17,424.13L436.17,427.90" stroke="#ab63fa" stroke-width="0.63" fill="none"/>
<path d="M444.21,418.07L447.98,418.07M446.10,416.19L446.10,419.95" stroke="#ab63fa" stroke-width="0.63" fill="none"/>
<path d="M454.15,398.64L457.92,398.64M456.03,396.76L456.03,400.53" stroke="#ab63fa" stroke-width="0.63" fill="none"/>
<path d="M464.08,426.02L467.85,426.02M465.96,424.13L465.96,427.90" stroke="#ab63fa" stroke-width="0.63" fill="none"/>
<path d="M474.01,387.34L477.78,387.34M475.90,385.46L475.90,389.23" stroke="#ab63fa" stroke-width="0.63" fill="none"/>
<path d="M483.94,426.02L487.71,426.02M485.83,424.13L485.83,427.90" stroke="#ab63fa" stroke-width="0.63" fill="none"/>
<path d="M493.88,416.48L497.65,416.48M495.76,414.60L495.76,418.37" stroke="#ab63fa" stroke-width="0.63" fill="none"/>
<path d="M503.81,415.24L507.58,415.24M505.70,413.36L505.70,417.13" stroke="#ab63fa" stroke-width="0.63" fill="none"/>
<path d="M513.74,396.52L517.51,396.52M515.63,394.64L515.63,398.41" stroke="#ab63fa" stroke-width="0.63" fill="none"/>
<path d="M523.68,418.07L527.45,418.07M525.56,416.19L525.56,419.95" stroke="#ab63fa" stroke-width="0.63" fill="none"/>
<path d="M533.61,377.63L537.38,377.63M535.50,375.74L535.50,379.51" stroke="#ab63fa" stroke-width="0.63" fill="none"/>
<path d="M543.54,406.24L547.31,406.24M545.43,404.35L545.43,408.12" stroke="#ab63fa" stroke-width="0.63" fill="none"/>
<path d="M553.48,373.57L557.25,373.57M555.36,371.68L555.36,375.45" stroke="#ab63fa" stroke-width="0.63" fill="none"/>
<path d="M563.41,420.19L567.18,420.19M565.29,418.30L565.29,422.07" stroke="#ab63fa" stroke-width="0.63" fill="none"/>
<path d="M573.34,409.24L577.11,409.24M575.23,407.35L575.23,411.12" stroke="#ab63fa" stroke-width="0.63" fill="none"/>
<path d="M583.27,389.28L587.04,389.28M585.16,387.40L585.16,391.17" stroke="#ab63fa" stroke-width="0.63" fill="none"/>
<path d="M593.21,399.35L596.98,399.35M595.09,397.47L595.09,401.24" stroke="#ab63fa" stroke-width="0.63" fill="none"/>
<path d="M603.14,418.60L606.91,418.60M605.03,416.71L605.03,420.48" stroke="#ab63fa" stroke-width="0.63" fill="none"/>
<path d="M613.07,426.90L616.84,426.90M614.96,425.01L614.96,428.78" stroke="#ab63fa" stroke-width="0.63" fill="none"/>
<path d="M623.01,417.89L626.78,417.89M624.89,416.01L624.89,419.78" stroke="#ab63fa" stroke-width="0.63" fill="none"/>
<path d="M632.94,400.94L636.71,400.94M634.83,399.05L634.83,402.82" stroke="#ab63fa" stroke-width="0.63" fill="none"/>
<path d="M642.87,426.90L646.64,426.90M644.76,425.01L644.76,428.78" stroke="#ab63fa" stroke-width="0.63" fill="none"/>
<path d="M652.81,421.43L656.58,421.43M654.69,419.54L654.69,423.31" stroke="#ab63fa" stroke-width="0.63" fill="none"/>
<path d="M662.74,418.25L666.51,418.25M664.62,416.36L664.62,420.13" stroke="#ab63fa" stroke-width="0.63" fill="none"/>
<path d="M672.67,399.00L676.44,399.00M674.56,397.11L674.56,400.88" stroke="#ab63fa" stroke-width="0.63" fill="none"/>
<path d="M682.61,388.75L686.38,388.75M684.49,386.87L684.49,390.64" stroke="#ab63fa" stroke-width="0.63" fill="none"/>
</g>
<rect x="386.50" y="307.80" width="298.00" height="124.60" fill="none" stroke="#000" stroke-width="0.55"/>
<line x1="384.30" y1="426.90" x2="386.50" y2="426.90" stroke="#000" stroke-width="0.55"/>
<text x="382.30" y="429.40" font-size="6.88" text-anchor="end" fill="#000" stroke="#000" stroke-width="0.12" textLength="17.89" lengthAdjust="spacingAndGlyphs">0.000</text>
<line x1="384.30" y1="409.24" x2="386.50" y2="409.24" stroke="#000" stroke-width="0.55"/>
<text x="382.30" y="411.74" font-size="6.88" text-anchor="end" fill="#000" stroke="#000" stroke-width="0.12" textLength="17.89" lengthAdjust="spacingAndGlyphs">0.001</text>
<line x1="384.30" y1="391.58" x2="386.50" y2="391.58" stroke="#000" stroke-width="0.55"/>
<text x="382.30" y="394.08" font-size="6.88" text-anchor="end" fill="#000" stroke="#000" stroke-width="0.12" textLength="17.89" lengthAdjust="spacingAndGlyphs">0.002</text>
<line x1="384.30" y1="373.92" x2="386.50" y2="373.92" stroke="#000" stroke-width="0.55"/>
<text x="382.30" y="376.42" font-size="6.88" text-anchor="end" fill="#000" stroke="#000" stroke-width="0.12" textLength="17.89" lengthAdjust="spacingAndGlyphs">0.003</text>
<line x1="384.30" y1="356.26" x2="386.50" y2="356.26" stroke="#000" stroke-width="0.55"/>
<text x="382.30" y="358.76" font-size="6.88" text-anchor="end" fill="#000" stroke="#000" stroke-width="0.12" textLength="17.89" lengthAdjust="spacingAndGlyphs">0.004</text>
<line x1="384.30" y1="338.60" x2="386.50" y2="338.60" stroke="#000" stroke-width="0.55"/>
<text x="382.30" y="341.10" font-size="6.88" text-anchor="end" fill="#000" stroke="#000" stroke-width="0.12" textLength="17.89" lengthAdjust="spacingAndGlyphs">0.005</text>
<line x1="384.30" y1="320.94" x2="386.50" y2="320.94" stroke="#000" stroke-width="0.55"/>
<text x="382.30" y="323.44" font-size="6.88" text-anchor="end" fill="#000" stroke="#000" stroke-width="0.12" textLength="17.89" lengthAdjust="spacingAndGlyphs">0.006</text>
<line x1="396.43" y1="432.40" x2="396.43" y2="434.60" stroke="#000" stroke-width="0.55"/>
<text x="396.43" y="441.20" font-size="6.88" text-anchor="middle" fill="#000" stroke="#000" stroke-width="0.12" textLength="15.91" lengthAdjust="spacingAndGlyphs">1995</text>
<line x1="446.10" y1="432.40" x2="446.10" y2="434.60" stroke="#000" stroke-width="0.55"/>
<text x="446.10" y="441.20" font-size="6.88" text-anchor="middle" fill="#000" stroke="#000" stroke-width="0.12" textLength="15.91" lengthAdjust="spacingAndGlyphs">2000</text>
<line x1="495.76" y1="432.40" x2="495.76" y2="434.60" stroke="#000" stroke-width="0.55"/>
<text x="495.76" y="441.20" font-size="6.88" text-anchor="middle" fill="#000" stroke="#000" stroke-width="0.12" textLength="15.91" lengthAdjust="spacingAndGlyphs">2005</text>
<line x1="545.43" y1="432.40" x2="545.43" y2="434.60" stroke="#000" stroke-width="0.55"/>
<text x="545.43" y="441.20" font-size="6.88" text-anchor="middle" fill="#000" stroke="#000" stroke-width="0.12" textLength="15.91" lengthAdjust="spacingAndGlyphs">2010</text>
<line x1="595.09" y1="432.40" x2="595.09" y2="434.60" stroke="#000" stroke-width="0.55"/>
<text x="595.09" y="441.20" font-size="6.88" text-anchor="middle" fill="#000" stroke="#000" stroke-width="0.12" textLength="15.91" lengthAdjust="spacingAndGlyphs">2015</text>
<line x1="644.76" y1="432.40" x2="644.76" y2="434.60" stroke="#000" stroke-width="0.55"/>
<text x="644.76" y="441.20" font-size="6.88" text-anchor="middle" fill="#000" stroke="#000" stroke-width="0.12" textLength="15.91" lengthAdjust="spacingAndGlyphs">2020</text>
<text x="535.50" y="304.80" font-size="7.80" text-anchor="middle" fill="#000" stroke="#000" stroke-width="0.1" textLength="185.53" lengthAdjust="spacingAndGlyphs">e) It&#39;s Not Happening, It&#39;s Not Us, It Won&#39;t Be Bad</text>
<rect x="599.60" y="311.40" width="81.90" height="30.10" rx="1.3" fill="#fff" fill-opacity="0.8" stroke="#cccccc" stroke-width="0.63"/>
<path d="M601.40,316.50L615.30,316.50" stroke="#ef553b" stroke-width="1.2"/>
<path d="M606.46,314.62L610.23,318.38M606.46,318.38L610.23,314.62" stroke="#ef553b" stroke-width="0.63" fill="none"/>
<text x="620.60" y="318.80" font-size="7.04" text-anchor="start" fill="#000" stroke="#000" stroke-width="0.1" textLength="58.03" lengthAdjust="spacingAndGlyphs">It&#39;s not happening</text>
<path d="M601.40,325.90L615.30,325.90" stroke="#00cc96" stroke-width="1.2" stroke-dasharray="3.5,1.5"/>
<path d="M608.35,324.01L610.23,327.78L606.46,327.78Z" fill="#00cc96" stroke="#00cc96" stroke-width="0.63" stroke-linejoin="miter"/>
<text x="620.60" y="328.20" font-size="7.04" text-anchor="start" fill="#000" stroke="#000" stroke-width="0.1" textLength="31.43" lengthAdjust="spacingAndGlyphs">It&#39;s not us</text>
<path d="M601.40,335.30L615.30,335.30" stroke="#ab63fa" stroke-width="1.2" stroke-dasharray="0.9,1.5"/>
<path d="M606.46,335.30L610.23,335.30M608.35,333.42L608.35,337.19" stroke="#ab63fa" stroke-width="0.63" fill="none"/>
<text x="620.60" y="337.60" font-size="7.04" text-anchor="start" fill="#000" stroke="#000" stroke-width="0.1" textLength="48.02" lengthAdjust="spacingAndGlyphs">It won&#39;t be bad</text>
<text x="535.90" y="450.50" font-size="7.80" text-anchor="middle" fill="#000" stroke="#000" stroke-width="0.1" textLength="15.88" lengthAdjust="spacingAndGlyphs">Year</text></g>
</svg></div>
</body></html>
